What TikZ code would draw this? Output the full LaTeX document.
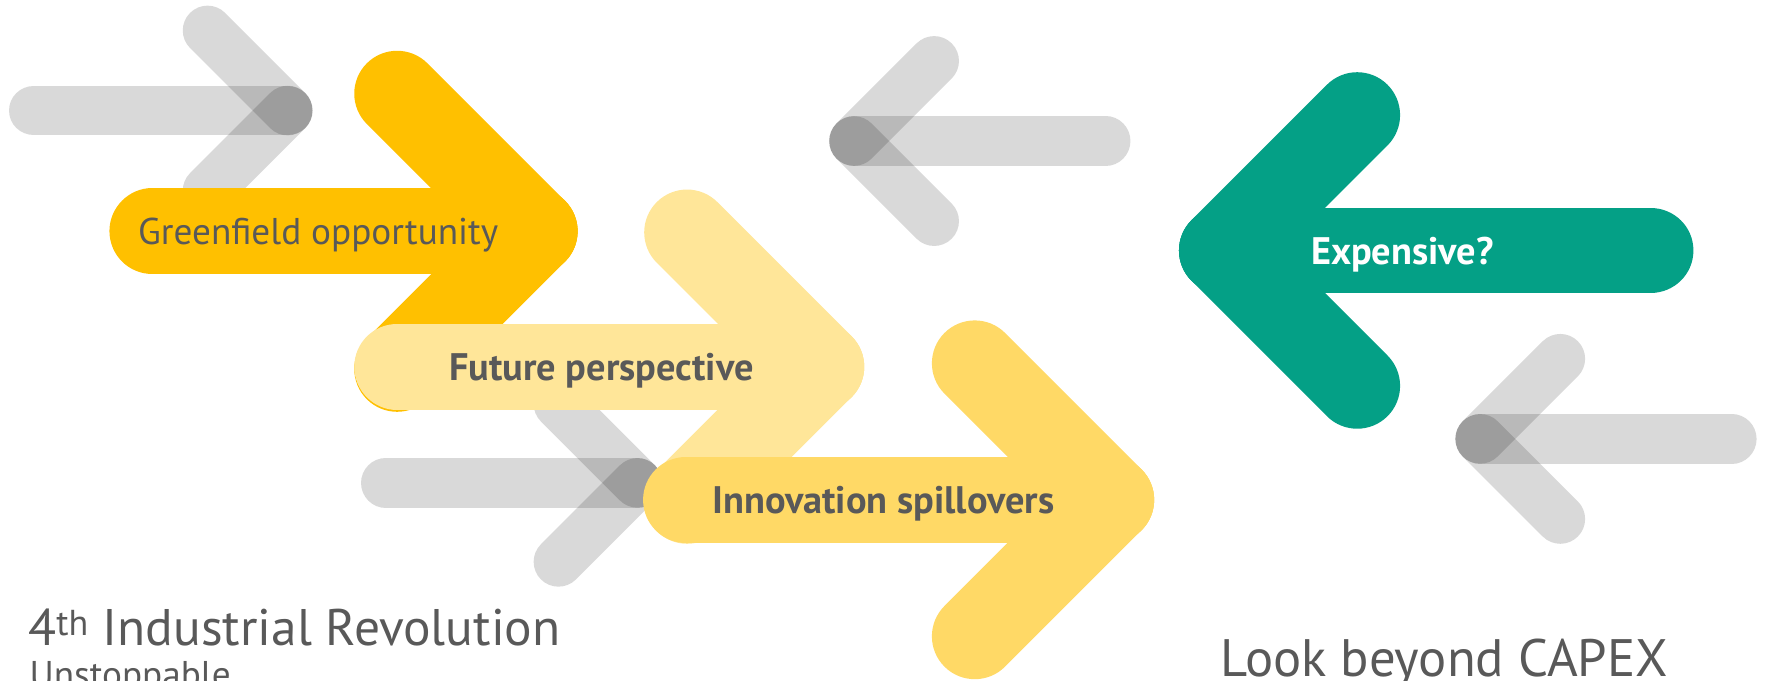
\documentclass[tikz,border=0pt]{standalone}
\usepackage{fontspec}
\setmainfont{PT Sans}
\definecolor{gfcol}{HTML}{FFC000}
\definecolor{fpcol}{HTML}{FFE699}
\definecolor{iscol}{HTML}{FFD966}
\definecolor{excol}{HTML}{04A086}
\definecolor{txtgray}{HTML}{595959}
\begin{document}
\begin{tikzpicture}[x=1pt,y=-1pt,line cap=round,line join=round,
  pics/arr/.style 2 args={code={
    \draw (0,0) -- (-#1,0);
    \draw (0,0) -- (-#2,-#2);
    \draw (0,0) -- (-#2,#2);
  }},
  grayarr/.style={line width=44pt,draw=black,draw opacity=0.15},
  bigarr/.style={line width=76pt,draw=#1},
  lab/.style={font=\fontsize{33}{40}\selectfont,text=txtgray,anchor=base,inner sep=0pt},
  blab/.style={lab,font=\fontsize{34}{40}\selectfont\bfseries},
  big/.style={text=txtgray,anchor=base west,inner sep=0pt}
]
\useasboundingbox (0,0) rectangle (1568,603);
\clip (0,0) rectangle (1568,603);
% gray arrows
\pic[grayarr] at (255,98) {arr={225}{71}};
\pic[grayarr] at (565,428) {arr={223}{70}};
\pic[grayarr,xscale=-1] at (757,125) {arr={223}{71}};
\pic[grayarr,xscale=-1] at (1312,389) {arr={223}{71}};
% coloured arrows
\pic[bigarr=gfcol] at (474,205) {arr={339}{122}};
\pic[bigarr=fpcol] at (728,325) {arr={376}{119}};
\pic[bigarr=iscol] at (985,443) {arr={377}{121}};
\pic[bigarr=excol,xscale=-1] at (1083,222) {arr={380}{120}};
% labels
\node[lab] (gf) at (282,216.5) {Greenfield opportunity};
\node[blab] (fp) at (533,337) {Future perspective};
\node[blab] (is) at (783,455) {Innovation spillovers};
\node[blab,text=white] (ex) at (1243,234) {Expensive?};
\node[big,font=\fontsize{45.6}{52}\selectfont] (ir) at (25,572) {4\textsuperscript{th} Industrial Revolution};
\node[big,font=\fontsize{33}{38}\selectfont] (un) at (26,609) {Unstoppable};
\node[big,font=\fontsize{46.7}{52}\selectfont] (lb) at (1082,600) {Look beyond CAPEX};
\end{tikzpicture}
\end{document}
